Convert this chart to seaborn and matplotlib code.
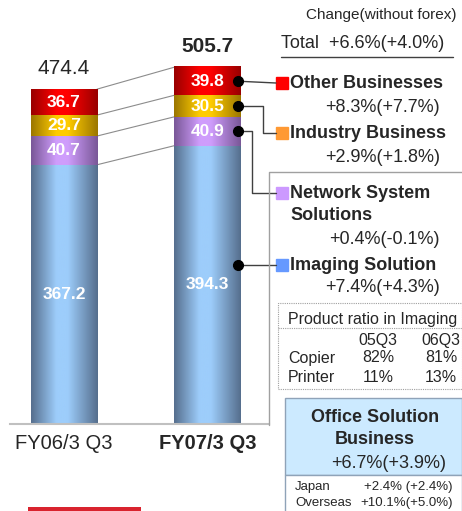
import numpy as np
import pandas as pd
import matplotlib.pyplot as plt
import seaborn as sns
from matplotlib.colors import LinearSegmentedColormap
from matplotlib.lines import Line2D
from matplotlib.patches import Rectangle

# Sales by segment (billion yen), Q3
periods = ["FY06/3 Q3", "FY07/3 Q3"]
imaging = [367.2, 394.3]
network = [40.7, 40.9]
industry = [29.7, 30.5]
other = [36.7, 39.8]
totals = [474.4, 505.7]

segment_names = ["Imaging Solution", "Network System\nSolutions", "Industry Business", "Other Businesses"]
segment_changes = ["+7.4%(+4.3%)", "+0.4%(-0.1%)", "+2.9%(+1.8%)", "+8.3%(+7.7%)"]
total_change = "Total  +6.6%(+4.0%)"
ratio_cols = ["05Q3", "06Q3"]
ratio_rows = ["Copier", "Printer"]
ratio_vals = [["82%", "81%"], ["11%", "13%"]]
office_change = "+6.7%(+3.9%)"
region_names = ["Japan", "Overseas"]
region_changes = ["+2.4% (+2.4%)", "+10.1%(+5.0%)"]

W, H = 462, 511


def fx(x):
    return x / W


def fy(y):
    return 1 - y / H


sns.set_style("white")
plt.rcParams['font.family'] = ['Liberation Sans', 'DejaVu Sans']

fig = plt.figure(figsize=(W / 100, H / 100), dpi=100)
ax = fig.add_axes([fx(10), fy(424), fx(269) - fx(10), fy(0) - fy(424)])

# (values, edge colour, centre colour, legend colour)
layers = [
    (imaging, "#566f8e", "#9dcdfb", "#6699ff"),
    (network, "#7a5898", "#cf9dfc", "#cc99ff"),
    (industry, "#9c7700", "#ffcc00", "#ff9933"),
    (other, "#990000", "#ff0000", "#ff0000"),
]

bottom = np.zeros(len(periods))
for vals, edge, centre, _ in layers:
    sns.barplot(x=periods, y=vals, bottom=bottom, width=0.46, color=centre,
                saturation=1, linewidth=0, ax=ax)
    bottom = bottom + np.array(vals)

grad = np.linspace(0, 1, 100)[None, :]
seg_patches = []
for i, (vals, edge, centre, _) in enumerate(layers):
    cmap = LinearSegmentedColormap.from_list(
        f"g{i}", [(0, edge), (0.38, centre), (0.55, centre), (1, edge)])
    pts = ax.patches[2 * i:2 * i + 2]
    seg_patches.append(pts)
    for p, v in zip(pts, vals):
        x0, y0, w, h = p.get_x(), p.get_y(), p.get_width(), p.get_height()
        ax.imshow(grad, extent=[x0, x0 + w, y0, y0 + h], aspect="auto", cmap=cmap,
                  origin="lower", interpolation="bicubic", zorder=2)
        ax.text(x0 + w / 2, y0 + h / 2, f"{v:.1f}", ha="center", va="center",
                color="white", fontsize=12.5, fontweight="bold", zorder=5)

ax.set_xlim(-54 / 143.5, 205 / 143.5)
ax.set_ylim(0, 600.6)

# lines between the two bars
for p1, p2 in seg_patches:
    ax.plot([p1.get_x() + p1.get_width(), p2.get_x()],
            [p1.get_y() + p1.get_height(), p2.get_y() + p2.get_height()],
            color="#8c8c8c", lw=0.8, zorder=1, clip_on=False)

for i, t in enumerate(totals):
    ax.annotate(f"{t:.1f}", (i, bottom[i]), xytext=(0, 15), textcoords="offset points",
                ha="center", va="center", fontsize=15,
                fontweight="bold" if i == 1 else "normal")

ax.set_xticks([0, 1])
ax.set_xticklabels(periods, fontsize=14.5)
ax.get_xticklabels()[1].set_fontweight("bold")
ax.tick_params(axis="x", length=0, pad=7)
ax.set_yticks([])
ax.set_xlabel("")
for s in ["left", "top", "right"]:
    ax.spines[s].set_visible(False)
ax.spines["bottom"].set_color("#c0c0c0")
ax.spines["bottom"].set_linewidth(1.5)

fig.canvas.draw()


def to_px(x, y):
    dx, dy = ax.transData.transform((x, y))
    return dx, H - dy


def fline(xs, ys, **kw):
    fig.add_artist(Line2D([fx(x) for x in xs], [fy(y) for y in ys],
                          transform=fig.transFigure, **kw))


# legend rows: y positions of the name lines
label_y = [265, 193, 133, 83]
pct_y = [288, 240, 157, 108]
elbow_x = [None, 252, 263, None]
for i, (pts, name, chg) in enumerate(zip(seg_patches, segment_names, segment_changes)):
    p2 = pts[1]
    dot_x, dot_y = to_px(p2.get_x() + p2.get_width() - 0.02, p2.get_y() + p2.get_height() / 2)
    if i == 0:
        dot_y = label_y[0]
    ly = label_y[i]
    if elbow_x[i] is None:
        fline([dot_x, 276], [dot_y, ly], color="#404040", lw=1)
    else:
        ex = elbow_x[i]
        fline([dot_x, ex, ex, 276], [dot_y, dot_y, ly, ly], color="#404040", lw=1)
    fline([dot_x], [dot_y], marker="o", ms=7, color="black", lw=0)
    fig.add_artist(Rectangle((fx(276), fy(ly + 6)), 12 / W, 12 / H,
                             transform=fig.transFigure, color=layers[i][3]))
    lines = name.split("\n")
    for k, ln in enumerate(lines):
        fig.text(fx(290), fy(ly + 23 * k), ln, ha="left", va="center",
                 fontsize=13, fontweight="bold")
    fig.text(fx(440), fy(pct_y[i]), chg, ha="right", va="center", fontsize=13)

fig.text(fx(306), fy(15), "Change(without forex)", ha="left", va="center", fontsize=11)
fig.text(fx(281), fy(43), total_change, ha="left", va="center", fontsize=13)
fline([281, 453], [57, 57], color="#404040", lw=1)

# grey frame around the imaging part
fline([269, 269, 462], [425, 172, 172], color="#a0a0a0", lw=1)

# product ratio box (dotted)
fig.add_artist(Rectangle((fx(278), fy(389)), (462 - 278) / W, (389 - 303) / H,
                         transform=fig.transFigure, fill=False, ec="#a0a0a0",
                         lw=0.8, ls=(0, (1, 1))))
fline([278, 462], [328, 328], color="#a0a0a0", lw=0.8, ls=(0, (1, 1)))
fig.text(fx(288), fy(319), "Product ratio in Imaging", ha="left", va="center", fontsize=11.5)
for j, c in enumerate(ratio_cols):
    fig.text(fx(378 + 63 * j), fy(340), c, ha="center", va="center", fontsize=11.5)
for r, (row, vals) in enumerate(zip(ratio_rows, ratio_vals)):
    fig.text(fx(288), fy(358 + 19 * r), row, ha="left", va="center", fontsize=11.5)
    for j, v in enumerate(vals):
        fig.text(fx(378 + 63 * j), fy(358 + 19 * r), v, ha="center", va="center", fontsize=11.5)

# office solution box
fig.add_artist(Rectangle((fx(285), fy(475)), (462 - 285) / W, (475 - 398) / H,
                         transform=fig.transFigure, fc="#cceaff", ec="#8fa3b8", lw=1))
fig.add_artist(Rectangle((fx(285), fy(512)), (462 - 285) / W, (512 - 475) / H,
                         transform=fig.transFigure, fc="white", ec="#8fa3b8", lw=1))
fig.text(fx(375), fy(418), "Office Solution", ha="center", va="center", fontsize=13, fontweight="bold")
fig.text(fx(375), fy(440), "Business", ha="center", va="center", fontsize=13, fontweight="bold")
fig.text(fx(389), fy(463), office_change, ha="center", va="center", fontsize=13)
for r, (reg, chg) in enumerate(zip(region_names, region_changes)):
    fig.text(fx(295), fy(487 + 16 * r), reg, ha="left", va="center", fontsize=9.5)
    fig.text(fx(453), fy(487 + 16 * r), chg, ha="right", va="center", fontsize=9.5)

# top edge of the logo peeking in at the bottom
fig.add_artist(Rectangle((fx(28), fy(511)), (141 - 28) / W, 4 / H,
                         transform=fig.transFigure, color="#d9232e", lw=0))

fig.savefig("out.png", dpi=100)
